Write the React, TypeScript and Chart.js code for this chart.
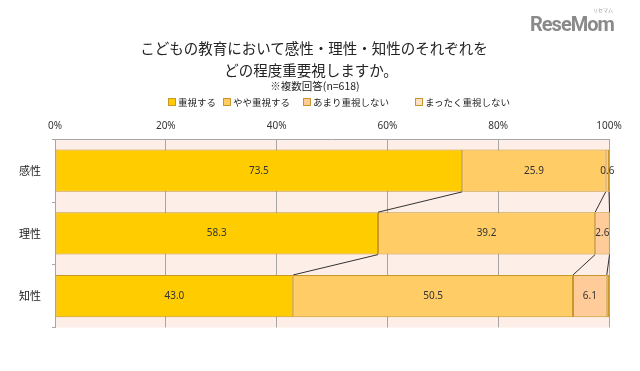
import React, { useEffect, useRef } from "react";
import { Chart, registerables } from "chart.js";

Chart.register(...registerables);

const categories = ["感性", "理性", "知性"];
const seriesNames = ["重視する", "やや重視する", "あまり重視しない", "まったく重視しない"];
const juushi = [73.5, 58.3, 43.0];
const yaya = [25.9, 39.2, 50.5];
const amari = [0.6, 2.6, 6.1];
const mattaku = [0.0, 0.0, 0.4];
const xTicks = [0, 20, 40, 60, 80, 100];
const colors = ["#FFCC00", "#FFCC66", "#FFCC99", "#FFE0C2"];
const labelledSeries = [true, true, true, false];

const FONT = "'Noto Sans CJK JP', 'Noto Sans', sans-serif";

const bgPlugin = {
  id: "plotBg",
  beforeDraw(chart: any) {
    const { ctx, chartArea } = chart;
    ctx.save();
    ctx.fillStyle = "#FDEEE8";
    ctx.fillRect(chartArea.left, chartArea.top, chartArea.right - chartArea.left, chartArea.bottom - chartArea.top);
    ctx.restore();
  },
};

const seriesLinePlugin = {
  id: "seriesLines",
  afterDatasetsDraw(chart: any) {
    const { ctx } = chart;
    ctx.save();
    ctx.strokeStyle = "#333333";
    ctx.lineWidth = 1;
    for (let d = 0; d < 3; d++) {
      const meta = chart.getDatasetMeta(d);
      for (let i = 0; i < meta.data.length - 1; i++) {
        const a = meta.data[i];
        const b = meta.data[i + 1];
        ctx.beginPath();
        ctx.moveTo(a.x, a.y + a.height / 2);
        ctx.lineTo(b.x, b.y - b.height / 2);
        ctx.stroke();
      }
    }
    ctx.restore();
  },
};

const labelPlugin = {
  id: "valueLabels",
  afterDatasetsDraw(chart: any) {
    const { ctx } = chart;
    ctx.save();
    ctx.font = "10px 'Noto Sans', sans-serif";
    ctx.fillStyle = "#333333";
    ctx.textAlign = "center";
    ctx.textBaseline = "middle";
    chart.data.datasets.forEach((ds: any, d: number) => {
      if (!labelledSeries[d]) return;
      const meta = chart.getDatasetMeta(d);
      meta.data.forEach((el: any, i: number) => {
        const v = ds.data[i];
        ctx.fillText(v.toFixed(1), (el.x + el.base) / 2, el.y);
      });
    });
    ctx.restore();
  },
};

function ChartCanvas() {
  const ref = useRef<HTMLCanvasElement | null>(null);
  useEffect(() => {
    if (!ref.current) return;
    const values = [juushi, yaya, amari, mattaku];
    const chart = new Chart(ref.current, {
      type: "bar",
      data: {
        labels: categories,
        datasets: seriesNames.map((name, i) => ({
          label: name,
          data: values[i],
          backgroundColor: colors[i],
          borderColor: "#C9962A",
          borderWidth: 1,
          borderSkipped: false,
          categoryPercentage: 1,
          barPercentage: 0.676,
        })),
      },
      options: {
        indexAxis: "y",
        responsive: false,
        animation: false,
        layout: { padding: { top: 114.3, left: 0, right: 31, bottom: 43.5 } },
        plugins: {
          legend: { display: false },
          title: { display: false },
          tooltip: { enabled: false },
        },
        scales: {
          x: {
            position: "top",
            stacked: true,
            min: 0,
            max: 100,
            afterFit: (s: any) => {
              s.height = 25;
            },
            afterBuildTicks: (s: any) => {
              s.ticks = xTicks.map((v) => ({ value: v }));
            },
            ticks: {
              padding: 7,
              color: "#333333",
              font: { size: 10, family: "'Noto Sans', sans-serif" },
              callback: (v: any) => v + "%",
              maxRotation: 0,
            },
            grid: { color: "#A6A6A6", drawTicks: false, lineWidth: 1 },
            border: { display: true, color: "#A6A6A6" },
          },
          y: {
            stacked: true,
            afterFit: (s: any) => {
              s.width = 55;
            },
            ticks: {
              padding: 11,
              color: "#222222",
              font: { size: 11, family: FONT },
            },
            grid: { drawOnChartArea: false, tickLength: 3, color: "#A6A6A6", offset: true },
            border: { display: true, color: "#A6A6A6" },
          },
        },
      },
      plugins: [bgPlugin, seriesLinePlugin, labelPlugin],
    } as any);
    return () => chart.destroy();
  }, []);
  return <canvas ref={ref} width={640} height={371} style={{ position: "absolute", left: 0, top: 0 }} />;
}

const legendLeft = [168, 223, 303, 415];

export default function App() {
  return (
    <div style={{ position: "absolute", left: 0, top: 0, width: 640, height: 371, background: "#ffffff", overflow: "hidden", fontFamily: FONT }}>
      <ChartCanvas />
      <div style={{ position: "absolute", left: 0, width: 628, top: 38, lineHeight: "20px", fontSize: 14.5, textAlign: "center", color: "#222" }}>
        こどもの教育において感性・理性・知性のそれぞれを
      </div>
      <div style={{ position: "absolute", left: 0, width: 622, top: 60, lineHeight: "20px", fontSize: 14.5, textAlign: "center", color: "#222" }}>
        どの程度重要視しますか。
      </div>
      <div style={{ position: "absolute", left: 0, width: 630, top: 79, lineHeight: "14px", fontSize: 10.5, textAlign: "center", color: "#222" }}>
        ※複数回答(n=618)
      </div>
      {seriesNames.map((name, i) => (
        <div key={name} style={{ position: "absolute", left: legendLeft[i], top: 96, lineHeight: "12px", fontSize: 9.5, color: "#222", display: "flex", alignItems: "center", whiteSpace: "nowrap" }}>
          <span style={{ display: "inline-block", width: 6, height: 6, background: colors[i], border: "1px solid #C9962A", marginRight: 2 }} />
          {name}
        </div>
      ))}
      <div style={{ position: "absolute", left: 593, top: 7, fontSize: 5, color: "#999", lineHeight: "6px" }}>リセマム</div>
      <div style={{ position: "absolute", left: 530, top: 13, fontSize: 20, fontWeight: 700, color: "#8a8a8a", lineHeight: "22px", fontFamily: "'Liberation Sans Narrow', 'Roboto', sans-serif", letterSpacing: -1 }}>
        ReseMom
      </div>
    </div>
  );
}
